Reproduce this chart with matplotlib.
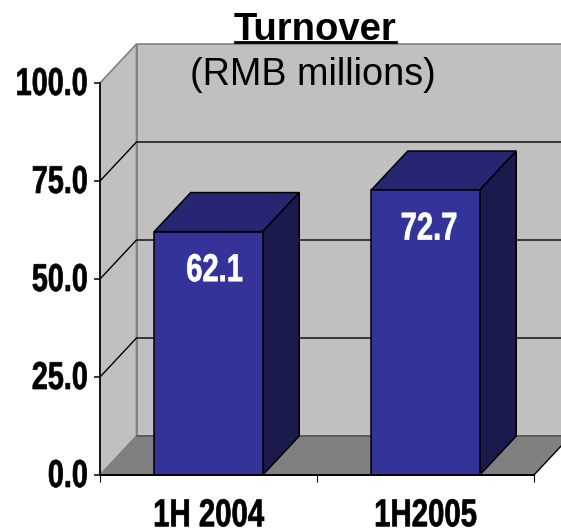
import matplotlib
matplotlib.use("Agg")
import matplotlib.pyplot as plt
from matplotlib.patches import Polygon
from matplotlib.lines import Line2D
from matplotlib.patheffects import AbstractPathEffect
from matplotlib.transforms import Affine2D

categories = ["1H 2004", "1H2005"]
values = [62.1, 72.7]
value_labels = ["62.1", "72.7"]
yticks = [0, 25, 50, 75, 100]
ytick_labels = ["0.0", "25.0", "50.0", "75.0", "100.0"]
title = "Turnover"
subtitle = "(RMB millions)"

W, H = 561, 530
SANS = ["Liberation Sans", "DejaVu Sans"]


class Condense(AbstractPathEffect):
    """Squeeze a text's glyphs horizontally around an anchor (0 left, .5 centre, 1 right)."""

    def __init__(self, sx=0.75, anchor=0.5, stroke=0.5, lift=0):
        super().__init__()
        self.sx, self.anchor, self.stroke, self.lift = sx, anchor, stroke, lift

    def draw_path(self, renderer, gc, tpath, affine, rgbFace=None):
        ext = tpath.get_extents()
        px = ext.x0 + ext.width * self.anchor
        squeeze = (Affine2D().translate(-px, 0).scale(self.sx, 1).translate(px, 0) + affine
                   + Affine2D().translate(0, self.lift))
        g = renderer.new_gc()
        g.copy_properties(gc)
        g.set_linewidth(self.stroke)
        g.set_foreground(rgbFace)
        renderer.draw_path(g, tpath, squeeze, rgbFace)
        g.restore()


fig = plt.figure(figsize=(W / 100, H / 100), dpi=100, facecolor="white")
L, R, T, B = 100, 534, 83, 475
ax = fig.add_axes([L / W, 1 - B / H, (R - L) / W, (B - T) / H])
ax.set_xlim(0, 2)
ax.set_ylim(0, 100)
ax.patch.set_visible(False)
for s in ax.spines.values():
    s.set_visible(False)

dx = 36.5 / (R - L) * 2     # depth in x data units
dy = 39 / (B - T) * 100     # depth in y data units
WALL, FLOOR, EDGE = "#C0C0C0", "#808080", "#808080"


def poly(pts, fc, ec="none", lw=0.8, z=1):
    ax.add_patch(Polygon(pts, closed=True, facecolor=fc, edgecolor=ec, linewidth=lw,
                         zorder=z, clip_on=False, joinstyle="miter"))


# walls and floor
poly([(dx, dy), (2 + dx, dy), (2 + dx, 100 + dy), (dx, 100 + dy)], WALL, EDGE, 1.2, 1)
poly([(0, 0), (dx, dy), (dx, 100 + dy), (0, 100)], WALL, EDGE, 1.2, 1)
poly([(0, 0), (2, 0), (2 + dx, dy), (dx, dy)], FLOOR, "none", 0, 1.5)
ax.plot([dx, 2 + dx], [dy, dy], color="#555555", lw=1.2, zorder=1.6, clip_on=False)
ax.plot([2, 2 + dx], [0, dy], color="black", lw=1.0, zorder=1.6, clip_on=False)

# gridlines on the walls
for t in yticks[1:-1]:
    ax.plot([0, dx, 2 + dx], [t, t + dy, t + dy], color="black", lw=1.0, zorder=2,
            clip_on=False, solid_joinstyle="miter")

# bars
xs = [0.5, 1.5]
bw = 0.5
label_shift = [6, 3.5]
ax.bar(xs, values, width=bw, color="#333399", edgecolor="black", linewidth=1.1,
       zorder=4, clip_on=False)
for x, v, lab, sh in zip(xs, values, value_labels, label_shift):
    x0, x1 = x - bw / 2, x + bw / 2
    poly([(x0, v), (x1, v), (x1 + dx, v + dy), (x0 + dx, v + dy)], "#262673", "black", 1.1, 3)
    poly([(x1, 0), (x1 + dx, dy), (x1 + dx, v + dy), (x1, v)], "#1A1A4D", "black", 1.1, 3)
    ax.annotate(lab, (x, v), xytext=(sh * 0.72, -28.5), textcoords="offset points",
                color="white", ha="center", va="center", fontsize=28, fontweight="bold",
                family=SANS, zorder=5, path_effects=[Condense(0.75, 0.5)])

# axes lines and ticks
ax.plot([0, 0], [0, 100], color="black", lw=1.2, zorder=6, clip_on=False)
ax.plot([0, 2], [0, 0], color="black", lw=1.4, zorder=6, clip_on=False)
ax.set_yticks(yticks, ytick_labels, fontsize=28, fontweight="bold", family=SANS)
ax.set_xticks([0, 1, 2], ["", "", ""])
ax.tick_params(axis="y", length=4, width=1.1, pad=4.5)
ax.tick_params(axis="x", length=5, width=0.8, pad=0)
for lb in ax.get_yticklabels():
    lb.set_path_effects([Condense(0.74, 1.0, lift=2)])
for x, c in zip(xs, categories):
    ax.annotate(c, (x, 0), xytext=(0, -29), textcoords="offset points", ha="center", va="center",
                fontsize=28, fontweight="bold", family=SANS, annotation_clip=False,
                path_effects=[Condense(0.755, 0.5, lift=-1)])

# titles
fig.text(315.5 / W, 1 - 39.5 / H, title, ha="center", va="baseline", fontsize=27.5,
         fontweight="bold", family=SANS)
fig.add_artist(Line2D([235 / W, 396 / W], [1 - 42 / H, 1 - 42 / H], color="black", lw=2.0))
fig.text(313 / W, 1 - 85 / H, subtitle, ha="center", va="baseline", fontsize=27.2, family=SANS, zorder=10)

fig.savefig("out.png", dpi=100)
